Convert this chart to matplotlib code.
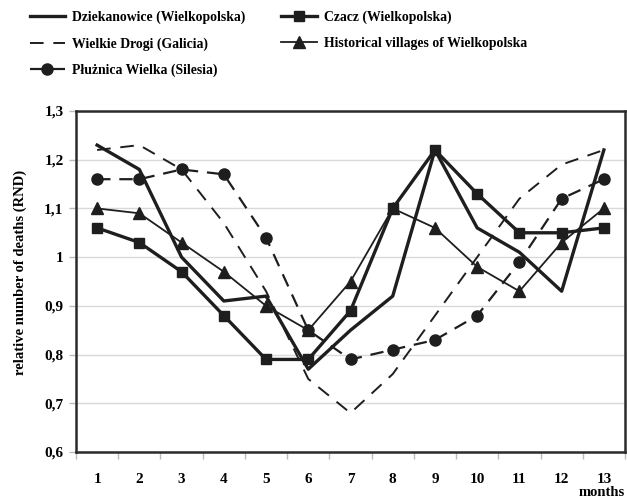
#!/usr/bin/env python3

import matplotlib
matplotlib.use('Agg')
import matplotlib.pyplot as plt
from matplotlib.ticker import FuncFormatter

GRAY_FRAME = '#2b2b2b'
GRAY_GRID = '#d9d9d9'
INK = '#1e1e1e'

months = list(range(1, 14))

dziekanowice = [1.23, 1.18, 1.00, 0.91, 0.92, 0.77, 0.85, 0.92, 1.22, 1.06, 1.01, 0.93, 1.22]
czacz = [1.06, 1.03, 0.97, 0.88, 0.79, 0.79, 0.89, 1.10, 1.22, 1.13, 1.05, 1.05, 1.06]
wielkie_drogi = [1.22, 1.23, 1.18, 1.07, 0.93, 0.75, 0.68, 0.76, 0.88, 1.00, 1.12, 1.19, 1.22]
historical = [1.10, 1.09, 1.03, 0.97, 0.90, 0.85, 0.95, 1.10, 1.06, 0.98, 0.93, 1.03, 1.10]
pluznica = [1.16, 1.16, 1.18, 1.17, 1.04, 0.85, 0.79, 0.81, 0.83, 0.88, 0.99, 1.12, 1.16]

y_ticks = [0.6, 0.7, 0.8, 0.9, 1.0, 1.1, 1.2, 1.3]


def comma(x, pos):
    # polish-style decimal comma, "1" without decimals
    s = ('%.1f' % x).replace('.', ',')
    return '1' if s == '1,0' else s


def main():
    plt.rcParams['font.family'] = ['Liberation Serif', 'DejaVu Serif']
    plt.rcParams['font.weight'] = 'bold'

    fig = plt.figure(figsize=(6.27, 4.99), dpi=100)
    ax = fig.add_axes([76 / 627, 1 - 452 / 499, 549 / 627, 341 / 499])

    ax.plot(months, dziekanowice, color=INK, lw=2.4, ls='-',
            label='Dziekanowice (Wielkopolska)')
    ax.plot(months, wielkie_drogi, color=INK, lw=1.4, ls=(0, (7, 5)),
            label='Wielkie Drogi (Galicia)')
    ax.plot(months, pluznica, color=INK, lw=1.6, ls=(0, (6, 4)), marker='o', ms=8,
            label='Płużnica Wielka (Silesia)')
    ax.plot(months, czacz, color=INK, lw=2.4, ls='-', marker='s', ms=6.5,
            label='Czacz (Wielkopolska)')
    ax.plot(months, historical, color=INK, lw=1.3, ls='-', marker='^', ms=8,
            label='Historical villages of Wielkopolska')

    ax.set_xlim(0.5, 13.5)
    ax.set_ylim(0.6, 1.3)
    ax.set_yticks(y_ticks)
    ax.yaxis.set_major_formatter(FuncFormatter(comma))
    ax.set_xticks(months)
    ax.set_xticks([m + 0.5 for m in range(0, 14)], minor=True)
    ax.tick_params(axis='x', which='major', length=0, pad=15, labelsize=11)
    ax.tick_params(axis='x', which='minor', length=5, color='#bbbbbb', width=1)
    ax.tick_params(axis='y', length=5, color='#bbbbbb', width=1, pad=4, labelsize=11)
    ax.yaxis.grid(True, color=GRAY_GRID, lw=1)
    ax.set_axisbelow(True)
    for sp in ax.spines.values():
        sp.set_color(GRAY_FRAME)
        sp.set_linewidth(1.8)

    fig.text(20 / 627, 1 - 272 / 499, 'relative number of deaths (RND)',
             rotation=90, ha='center', va='center', fontsize=10.5, fontweight='bold')
    fig.text(602 / 627, 1 - 493 / 499, 'months', ha='center', va='center',
             fontsize=10.5, fontweight='bold')

    fig.legend(loc='upper left', bbox_to_anchor=(24 / 627, 1 - 5 / 499), ncol=2,
               frameon=False, fontsize=9.9, handlelength=2.6, handletextpad=0.5,
               columnspacing=2.6, labelspacing=0.95, borderaxespad=0)

    fig.savefig('out.png', dpi=100)


if __name__ == '__main__':
    main()
